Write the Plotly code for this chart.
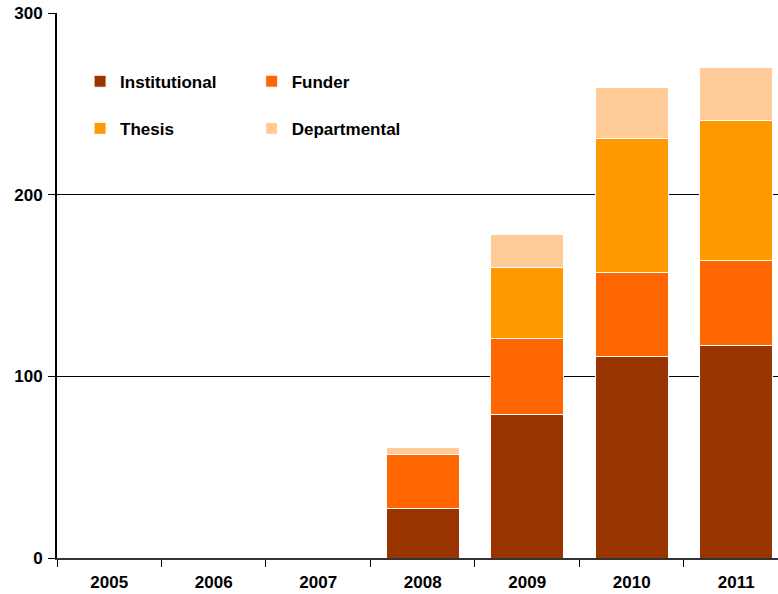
import plotly.graph_objects as go

years = ["2005", "2006", "2007", "2008", "2009", "2010", "2011"]
institutional = [0, 0, 0, 27, 79, 111, 117]
funder = [0, 0, 0, 30, 42, 46, 47]
thesis = [0, 0, 0, 0, 39, 74, 77]
departmental = [0, 0, 0, 4, 18, 28, 29]

series = [
    ("Institutional", institutional, "#993300", "legend", "g1"),
    ("Funder", funder, "#FF6600", "legend2", "g2"),
    ("Thesis", thesis, "#FF9900", "legend", "g3"),
    ("Departmental", departmental, "#FFCC99", "legend2", "g4"),
]

FONT = "Liberation Sans, Arial, sans-serif"

fig = go.Figure()
for name, vals, color, leg, grp in series:
    fig.add_trace(go.Bar(
        x=years, y=vals, name=name,
        marker=dict(color=color, line=dict(color="white", width=1)),
        legend=leg, legendgroup=grp,
    ))

legend_common = dict(
    font=dict(family=FONT, size=17, color="black", weight="bold"),
    bgcolor="rgba(0,0,0,0)",
    orientation="v",
    traceorder="grouped",
    tracegroupgap=22,
    yanchor="top",
    xanchor="left",
    itemwidth=30,
)

fig.update_layout(
    width=778, height=594,
    barmode="stack",
    bargap=0.3,
    plot_bgcolor="white",
    paper_bgcolor="white",
    margin=dict(l=57, r=0, t=13, b=36),
    font=dict(family=FONT, size=17, color="black", weight="bold"),
    legend=dict(x=0.032, y=0.907, **legend_common),
    legend2=dict(x=0.27, y=0.907, **legend_common),
    xaxis=dict(
        range=[-0.5, 6.4],
        automargin=False,
        showline=True, linecolor="#333333", linewidth=2,
        ticks="outside", tickson="boundaries", ticklen=7, tickcolor="black",
        showgrid=False,
        ticklabelstandoff=8,
        tickfont=dict(family=FONT, size=17, color="black", weight="bold"),
    ),
    yaxis=dict(
        range=[0, 300],
        automargin=False,
        tickvals=[0, 100, 200, 300],
        showline=True, linecolor="black", linewidth=2,
        ticks="outside", ticklen=7, tickcolor="black",
        showgrid=True, gridcolor="black", gridwidth=1,
        zeroline=False,
        ticklabelstandoff=2,
        tickfont=dict(family=FONT, size=17, color="black", weight="bold"),
    ),
)

fig.write_html(
    "out.html",
    config={"displayModeBar": False},
    post_script="document.body.style.margin='0';",
)
